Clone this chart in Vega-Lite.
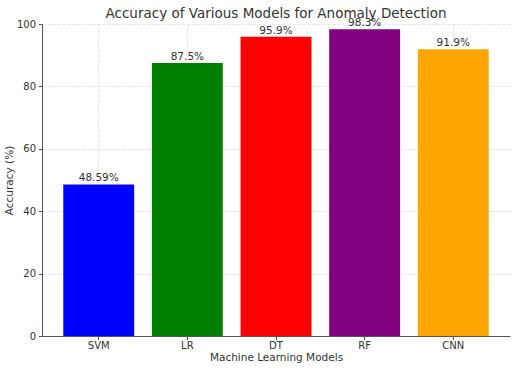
{
  "$schema": "https://vega.github.io/schema/vega-lite/v6.json",
  "autosize": {"type": "none"},
  "padding": {"left": 42, "top": 24, "right": 5, "bottom": 36},
  "width": 468,
  "height": 312,
  "background": "white",
  "config": {
    "font": "DejaVu Sans",
    "view": {"stroke": null},
    "axis": {
      "labelFont": "DejaVu Sans",
      "titleFont": "DejaVu Sans",
      "labelColor": "#333333",
      "titleColor": "#333333",
      "labelFontSize": 10,
      "titleFontSize": 10.5,
      "titleFontWeight": "normal",
      "domainColor": "#555555",
      "tickColor": "#555555",
      "tickSize": 3.5,
      "gridColor": "#d8d8d8",
      "gridDash": [3, 2],
      "gridWidth": 0.7,
      "zindex": 1
    }
  },
  "title": {
    "text": "Accuracy of Various Models for Anomaly Detection",
    "font": "DejaVu Sans",
    "fontSize": 13.5,
    "fontWeight": "normal",
    "color": "#333333",
    "offset": -2
  },
  "data": {
    "values": [
      {"model": "SVM", "accuracy": 48.59, "label": "48.59%", "color": "blue"},
      {"model": "LR", "accuracy": 87.5, "label": "87.5%", "color": "green"},
      {"model": "DT", "accuracy": 95.9, "label": "95.9%", "color": "red"},
      {"model": "RF", "accuracy": 98.3, "label": "98.3%", "color": "purple"},
      {"model": "CNN", "accuracy": 91.9, "label": "91.9%", "color": "orange"}
    ]
  },
  "encoding": {
    "x": {
      "field": "model",
      "type": "nominal",
      "sort": null,
      "scale": {"paddingInner": 0.2, "paddingOuter": 0.24},
      "axis": {
        "title": "Machine Learning Models",
        "labelAngle": 0,
        "grid": true,
        "bandPosition": 0.5,
        "labelPadding": 1,
        "titlePadding": 2
      }
    },
    "y": {
      "field": "accuracy",
      "type": "quantitative",
      "scale": {"domain": [0, 100], "nice": false},
      "axis": {
        "title": "Accuracy (%)",
        "values": [0, 20, 40, 60, 80, 100],
        "grid": true,
        "labelPadding": 3,
        "titlePadding": 2
      }
    }
  },
  "layer": [
    {
      "mark": {"type": "bar"},
      "encoding": {
        "color": {"field": "color", "type": "nominal", "scale": null}
      }
    },
    {
      "mark": {"type": "text", "baseline": "bottom", "dy": -1, "fontSize": 10.5, "color": "#333333", "font": "DejaVu Sans"},
      "encoding": {
        "text": {"field": "label", "type": "nominal"}
      }
    }
  ]
}
